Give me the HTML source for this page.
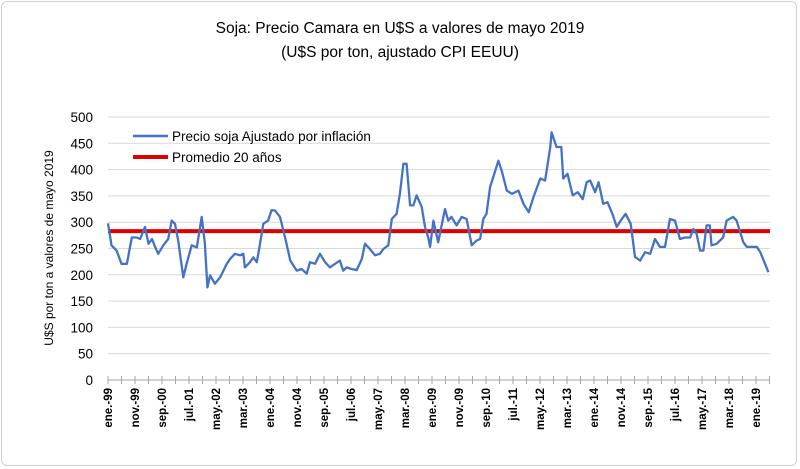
<!DOCTYPE html>
<html><head><meta charset="utf-8"><style>
body{margin:0;background:#fff;width:800px;height:469px;overflow:hidden;font-family:"Liberation Sans",sans-serif}
#frame{position:absolute;left:1px;top:1px;width:796px;height:465px;border:1px solid #d0d0d0;border-radius:6px;box-sizing:border-box}
</style></head><body>
<div id="frame"></div>
<svg id="chart" width="800" height="469" style="position:absolute;left:0;top:0">
<text x="400" y="33" text-anchor="middle" font-size="15.5" fill="#000">Soja: Precio Camara en U$S a valores de mayo 2019</text>
<text x="400" y="57" text-anchor="middle" font-size="15.5" fill="#000">(U$S por ton, ajustado CPI EEUU)</text>
<text transform="translate(53,248) rotate(-90)" text-anchor="middle" font-size="12" fill="#000">U$S por ton a valores de mayo 2019</text>
<g id="grid"></g><g id="yt"></g><g id="xt"></g><g id="series"></g>
<g>
<line x1="133" y1="136" x2="168" y2="136" stroke="#4472c4" stroke-width="2.5"/>
<text x="172" y="141" font-size="13.5" fill="#000">Precio soja Ajustado por inflación</text>
<line x1="133" y1="157" x2="168" y2="157" stroke="#e00000" stroke-width="4"/>
<text x="172" y="162" font-size="13.5" fill="#000">Promedio 20 años</text>
</g>
</svg>
<script>
const yTicks=[0,50,100,150,200,250,300,350,400,450,500];
const xLabels=["ene.-99","nov.-99","sep.-00","jul.-01","may.-02","mar.-03","ene.-04","nov.-04","sep.-05","jul.-06","may.-07","mar.-08","ene.-09","nov.-09","sep.-10","jul.-11","may.-12","mar.-13","ene.-14","nov.-14","sep.-15","jul.-16","may.-17","mar.-18","ene.-19"];
const monthIdx=[0,1.3,3.2,5,7,8.8,10.6,11.9,13.7,15,16.3,17.5,18.6,20.5,22.3,23.6,24.8,26,27.9,29.1,31,32.9,34.7,35.9,36.8,37.8,39.6,41.5,44,45.2,47,48.9,50.1,50.7,52.6,53.8,55.1,56.3,57.5,59.3,60.6,61.9,63.7,65.6,67.5,69.9,71.7,73.6,74.8,76.7,78.5,80.4,82.2,84.1,85.9,87.1,88.4,90.2,92.1,94,95.2,97,98.9,100.7,102,103.8,105.1,106.9,108.1,109.4,110.6,111.9,113.1,114.3,116.2,117.4,118.6,119.3,120.5,122.3,124.8,126,127.2,129.1,131,132.8,134.7,136.5,137.8,139,140.2,141.5,142.7,144.6,145.8,147.7,149.6,152,153.9,155.8,157.6,160.1,161.9,163.8,164.3,166.1,167.9,168.6,170.2,172.1,174,175.8,177.3,178.6,180.4,181.7,183.4,185,186.8,188.4,189.9,191.7,193.6,195.2,197.1,198.9,200.8,202.6,204.4,206.3,208.1,210,211.8,213.7,215.6,216.8,218,219.3,220.5,221.7,222.9,223.5,225.4,227.8,229.1,231.5,232.8,235.3,236.6,238.4,240.3,241.6,244.6];
const prices=[298,256,246,221,221,271,271,268,291,259,268,252,240,256,268,303,297,265,195,221,256,252,310,259,176,199,183,195,221,230,240,237,240,214,224,233,224,259,297,303,323,322,310,271,227,208,211,202,224,221,240,224,214,221,227,208,214,211,209,230,259,249,237,240,249,256,306,316,354,411,411,332,332,351,329,291,271,253,303,262,325,303,310,294,310,306,256,265,268,306,316,367,386,417,398,360,354,360,335,319,348,383,379,443,471,443,443,383,392,351,357,344,376,379,357,376,335,338,316,291,303,316,297,234,227,243,240,268,253,253,306,303,268,271,271,287,278,246,246,294,294,256,259,271,303,310,303,262,253,253,253,243,205];
const average=[283];
const NS="http://www.w3.org/2000/svg";
const X0=108,PXM=2.7,Y0=380,PXU=0.526,XR=770;
const xs=m=>X0+m*PXM, ys=v=>Y0-v*PXU;
function mk(t,a,p){const e=document.createElementNS(NS,t);for(const k in a)e.setAttribute(k,a[k]);p.appendChild(e);return e;}
const grid=document.getElementById('grid'),yt=document.getElementById('yt'),xt=document.getElementById('xt'),ser=document.getElementById('series');
yTicks.forEach(v=>{
 if(v>0){const l=mk('line',{x1:X0,x2:XR,y1:ys(v),y2:ys(v),stroke:'#d9d9d9','stroke-width':1},grid);
 
 }
 const t=mk('text',{x:93,y:ys(v)+5,'text-anchor':'end','font-size':13.5,fill:'#000'},yt);t.textContent=v;
 
 
});
const ax=mk('line',{x1:X0,x2:XR,y1:Y0,y2:Y0,stroke:'#a6a6a6','stroke-width':1},xt);


for(let m=0;m<=245;m+=5){const tk=mk('line',{x1:xs(m),x2:xs(m),y1:Y0-4,y2:Y0+4,stroke:'#a6a6a6'},xt);
 
 }
xLabels.forEach((s,i)=>{const x=xs(i*10);
 const t=mk('text',{transform:`translate(${x+4},${388}) rotate(-90)`,'text-anchor':'end','font-size':11.5,'font-weight':'bold',fill:'#000'},xt);t.textContent=s;
 
 });
const avg=mk('line',{x1:X0,x2:XR,y1:ys(average[0]),y2:ys(average[0]),stroke:'#e00000','stroke-width':4},ser);


const pts=monthIdx.map((m,i)=>xs(m).toFixed(1)+','+ys(prices[i]).toFixed(1)).join(' ');
const pl=mk('polyline',{points:pts,fill:'none',stroke:'#4472c4','stroke-width':2.3,'stroke-linejoin':'round'},ser);


</script>
</body></html>
